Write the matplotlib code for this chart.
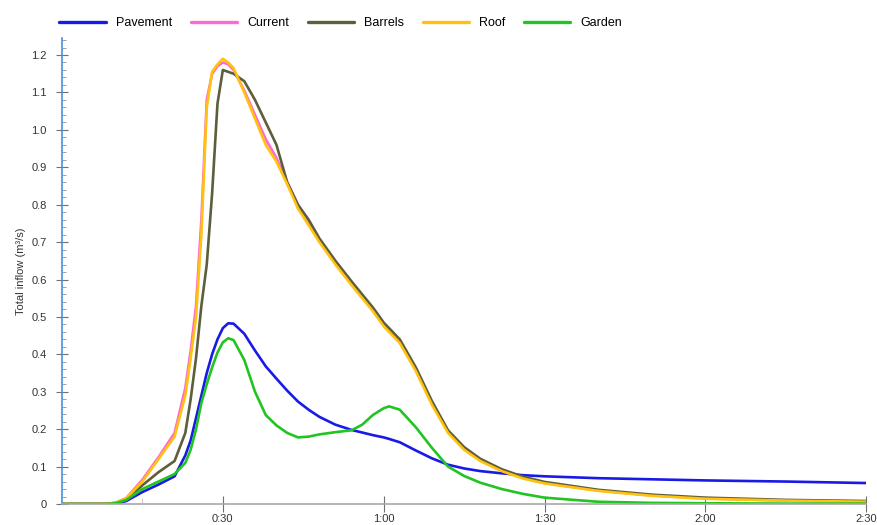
import matplotlib
matplotlib.use("Agg")
import matplotlib.pyplot as plt
from matplotlib.ticker import FixedLocator, MultipleLocator, FuncFormatter

# time in minutes
time_min = [0, 8, 10, 12, 15, 18, 21, 23, 24, 25,
            26, 27, 28, 29, 30, 31, 32, 34, 36, 38,
            40, 42, 44, 46, 48, 51, 54, 56, 58, 60,
            61, 63, 66, 69, 72, 75, 78, 82, 86, 90,
            100, 110, 120, 135, 150]

pavement = [0, 0, 0.001, 0.008, 0.032, 0.052, 0.074, 0.13, 0.17, 0.23,
            0.29, 0.35, 0.40, 0.44, 0.47, 0.483, 0.482, 0.455, 0.41, 0.368,
            0.335, 0.303, 0.274, 0.252, 0.233, 0.212, 0.198, 0.191, 0.184, 0.178,
            0.174, 0.165, 0.143, 0.122, 0.105, 0.095, 0.088, 0.082, 0.077, 0.074,
            0.069, 0.066, 0.063, 0.060, 0.056]

current = [0, 0, 0.003, 0.016, 0.065, 0.125, 0.19, 0.31, 0.41, 0.53,
           0.76, 1.08, 1.15, 1.17, 1.18, 1.175, 1.16, 1.105, 1.04, 0.975,
           0.925, 0.86, 0.80, 0.75, 0.705, 0.645, 0.59, 0.555, 0.52, 0.48,
           0.465, 0.435, 0.36, 0.27, 0.193, 0.147, 0.117, 0.09, 0.07, 0.056,
           0.036, 0.023, 0.015, 0.009, 0.006]

barrels = [0, 0, 0.003, 0.012, 0.05, 0.085, 0.115, 0.19, 0.28, 0.39,
           0.53, 0.64, 0.83, 1.07, 1.16, 1.155, 1.15, 1.13, 1.08, 1.02,
           0.96, 0.86, 0.80, 0.76, 0.71, 0.65, 0.595, 0.56, 0.525, 0.485,
           0.47, 0.44, 0.365, 0.275, 0.197, 0.152, 0.121, 0.093, 0.073, 0.059,
           0.038, 0.025, 0.017, 0.011, 0.008]

roof = [0, 0, 0.003, 0.015, 0.06, 0.12, 0.18, 0.29, 0.39, 0.50,
        0.72, 1.06, 1.155, 1.175, 1.19, 1.18, 1.165, 1.10, 1.03, 0.96,
        0.915, 0.855, 0.79, 0.745, 0.70, 0.64, 0.585, 0.55, 0.515, 0.475,
        0.46, 0.43, 0.355, 0.265, 0.19, 0.145, 0.115, 0.088, 0.068, 0.055,
        0.035, 0.022, 0.014, 0.009, 0.006]

garden = [0, 0, 0.002, 0.011, 0.04, 0.06, 0.08, 0.11, 0.145, 0.2,
          0.27, 0.32, 0.365, 0.405, 0.432, 0.443, 0.438, 0.385, 0.30, 0.238,
          0.21, 0.19, 0.178, 0.18, 0.186, 0.192, 0.197, 0.212, 0.238, 0.256,
          0.261, 0.252, 0.205, 0.15, 0.10, 0.075, 0.057, 0.04, 0.027, 0.017,
          0.006, 0.003, 0.002, 0.001, 0.001]

series_names = ["Pavement", "Current", "Barrels", "Roof", "Garden"]
series_values = [pavement, current, barrels, roof, garden]
colors = ["#1a1ae6", "#ff6ad0", "#5e5e3c", "#ffc20e", "#22c422"]

x_ticks = [30, 60, 90, 120, 150]
x_tick_labels = ["0:30", "1:00", "1:30", "2:00", "2:30"]

plt.rcParams['font.family'] = ['Liberation Sans', 'DejaVu Sans']

fig = plt.figure(figsize=(8.78, 5.25), dpi=100)
ax = fig.add_axes([0.0706, 0.04, 0.916, 0.888])

handles = []
for name, vals, c in zip(series_names, series_values, colors):
    h, = ax.plot(time_min, vals, color=c, lw=1.9, label=name,
                 solid_joinstyle='round', solid_capstyle='round')
    handles.append(h)

ax.set_xlim(0, 150)
ax.set_ylim(0, 1.246)

ax.spines['top'].set_visible(False)
ax.spines['right'].set_visible(False)
ax.spines['left'].set_color('#4a8fdc')
ax.spines['left'].set_linewidth(1.2)
ax.spines['bottom'].set_color('#a8a8a8')
ax.spines['bottom'].set_linewidth(1.2)

ax.xaxis.set_major_locator(FixedLocator(x_ticks))
ax.set_xticklabels(x_tick_labels)
ax.xaxis.set_minor_locator(FixedLocator([15]))
ax.tick_params(axis='x', which='major', direction='inout', length=12,
               color='#707070', labelsize=8, labelcolor='#333333', pad=1)
ax.tick_params(axis='x', which='minor', direction='in', length=4,
               color='#c0c0c0')

ax.yaxis.set_major_locator(MultipleLocator(0.1))
ax.yaxis.set_minor_locator(MultipleLocator(0.02))
ax.yaxis.set_major_formatter(FuncFormatter(lambda v, p: "0" if abs(v) < 1e-9 else f"{v:.1f}"))
ax.tick_params(axis='y', which='major', direction='inout', length=8,
               color='#707070', labelsize=8, labelcolor='#333333', pad=7)
ax.tick_params(axis='y', which='minor', direction='in', length=3,
               color='#909090')

ax.set_ylabel("Total inflow (m³/s)", fontsize=8, color='#333333', labelpad=4)

fig.legend(handles=handles, loc='center left', bbox_to_anchor=(0.062, 0.956),
           ncol=5, frameon=False, fontsize=9, handlelength=3.7,
           handletextpad=0.85, columnspacing=1.45, borderaxespad=0)
for lh in fig.legends[0].get_lines():
    lh.set_linewidth(2.4)

fig.savefig("out.png", dpi=100)
